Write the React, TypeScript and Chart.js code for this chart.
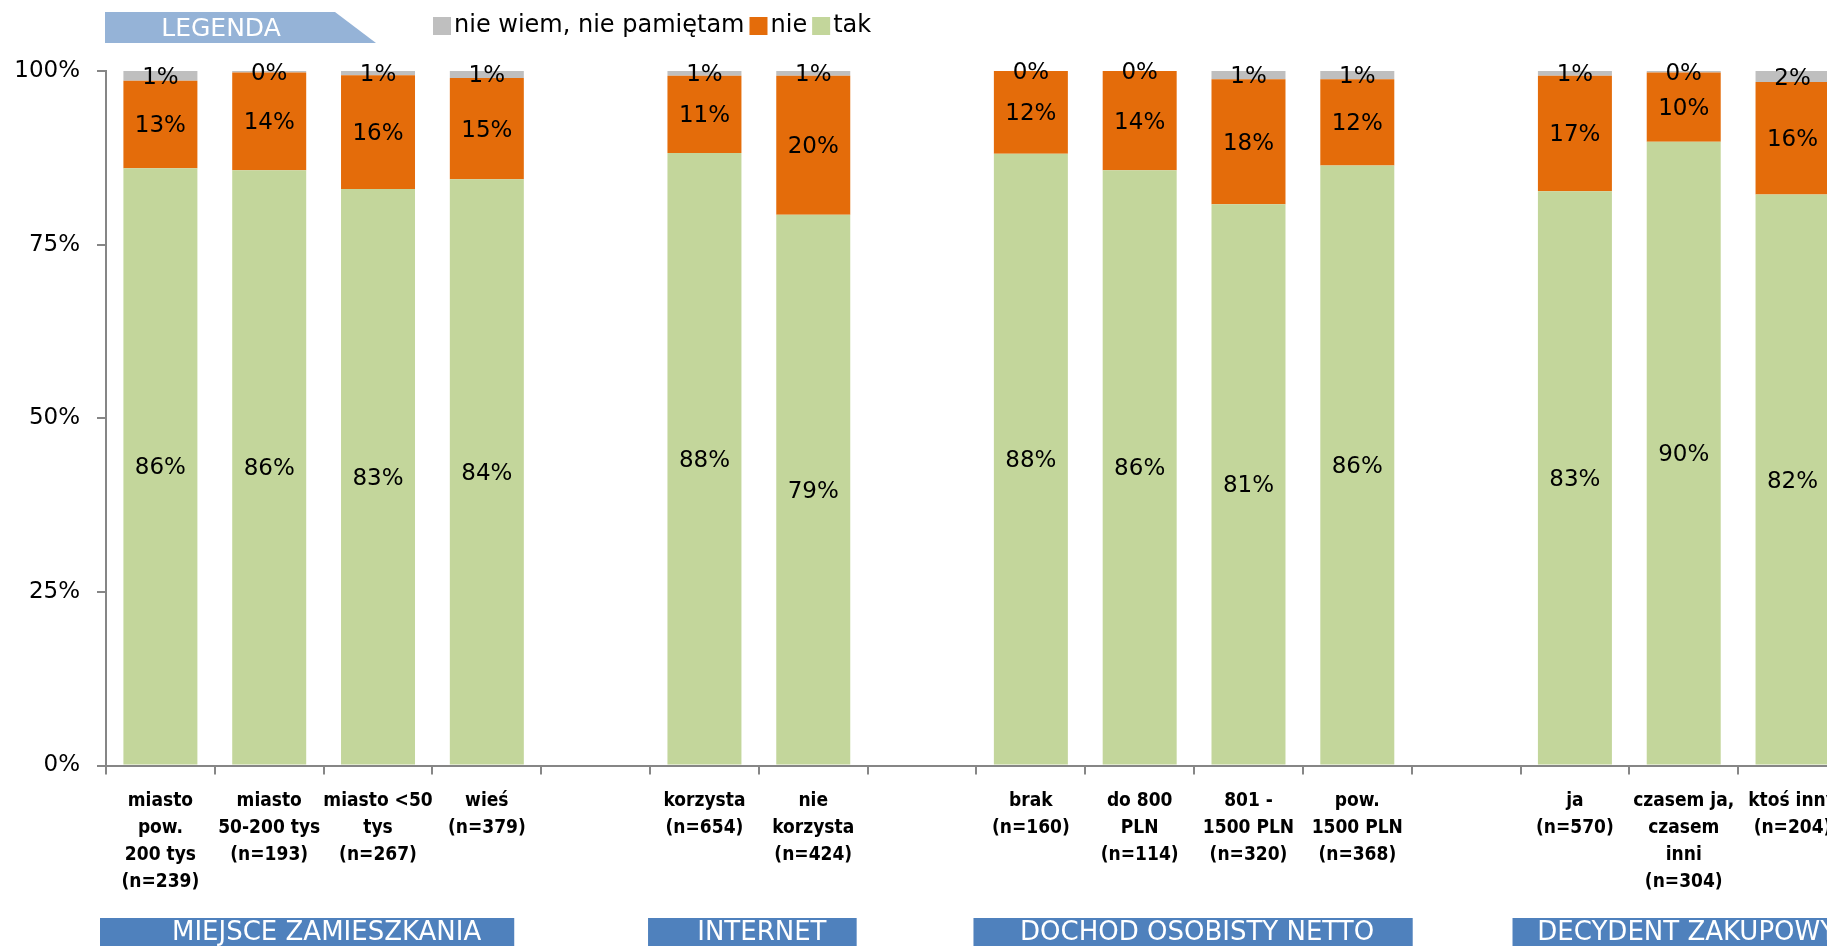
import React, { useEffect, useRef } from 'react';
import { Chart, registerables } from 'chart.js';

Chart.register(...registerables);

// ---------- data ----------
const categories: (string | string[])[] = [
  ['miasto', 'pow.', '200 tys', '(n=239)'],
  ['miasto', '50-200 tys', '(n=193)'],
  ['miasto <50', 'tys', '(n=267)'],
  ['wieś', '(n=379)'],
  '',
  ['korzysta', '(n=654)'],
  ['nie', 'korzysta', '(n=424)'],
  '',
  ['brak', '(n=160)'],
  ['do 800', 'PLN', '(n=114)'],
  ['801 -', '1500 PLN', '(n=320)'],
  ['pow.', '1500 PLN', '(n=368)'],
  '',
  ['ja', '(n=570)'],
  ['czasem ja,', 'czasem', 'inni', '(n=304)'],
  ['ktoś inny', '(n=204)'],
];

const takValues = [86.0, 85.7, 83.0, 84.4, null, 88.2, 79.3, null, 88.1, 85.7, 80.8, 86.4, null, 82.7, 89.8, 82.2];
const nieValues = [12.6, 14.1, 16.4, 14.6, null, 11.1, 20.0, null, 11.9, 14.3, 18.0, 12.4, null, 16.6, 10.0, 16.2];
const nieWiemValues = [1.4, 0.2, 0.6, 1.0, null, 0.7, 0.7, null, 0.0, 0.0, 1.2, 1.2, null, 0.7, 0.2, 1.6];

const seriesNames = ['tak', 'nie', 'nie wiem, nie pamiętam'];
const seriesColors = ['#C3D69B', '#E46C0A', '#BFBFBF'];

const yTicks = [0, 25, 50, 75, 100];

const groups = [
  { name: 'MIEJSCE ZAMIESZKANIA', from: 0, to: 3 },
  { name: 'INTERNET', from: 5, to: 6 },
  { name: 'DOCHÓD OSOBISTY NETTO', from: 8, to: 11 },
  { name: 'DECYDENT ZAKUPOWY', from: 13, to: 15 },
];

const legendTitle = 'LEGENDA';

// ---------- styles ----------
const FONT = "'DejaVu Sans', sans-serif";
const FONT_COND = "'DejaVu Sans Condensed', 'DejaVu Sans', sans-serif";
const AXIS_COLOR = '#868686';
// per-banner horizontal trims (px) [left, right]
const bannerTrims = [
  [-6, -27],
  [-2, -11],
  [-3, 1],
  [-8, 0],
];

const labelsPlugin = {
  id: 'segLabels',
  afterDatasetsDraw(chart: any) {
    const ctx = chart.ctx;
    ctx.save();
    ctx.font = `23px ${FONT}`;
    ctx.fillStyle = '#000000';
    ctx.textAlign = 'center';
    ctx.textBaseline = 'middle';
    chart.data.datasets.forEach((ds: any, di: number) => {
      const meta = chart.getDatasetMeta(di);
      meta.data.forEach((el: any, i: number) => {
        const v = ds.data[i];
        if (v === null || v === undefined) return;
        const y = (el.y + el.base) / 2;
        ctx.fillText(`${Math.round(v)}%`, el.x, y + 2);
      });
    });
    ctx.restore();
  },
};

const decorPlugin = {
  id: 'decor',
  afterDraw(chart: any) {
    const ctx = chart.ctx;
    const x = chart.scales.x;
    ctx.save();

    // LEGENDA banner
    ctx.fillStyle = '#95B3D7';
    ctx.beginPath();
    ctx.moveTo(105, 12);
    ctx.lineTo(335, 12);
    ctx.lineTo(376, 43);
    ctx.lineTo(105, 43);
    ctx.closePath();
    ctx.fill();
    ctx.fillStyle = '#FFFFFF';
    ctx.font = `25px ${FONT}`;
    ctx.textAlign = 'center';
    ctx.textBaseline = 'middle';
    ctx.fillText(legendTitle, 221, 29);

    // legend items (reverse order: nie wiem, nie, tak)
    let lx = 433;
    ctx.font = `24px ${FONT}`;
    ctx.textAlign = 'left';
    const ds = chart.data.datasets;
    for (let i = ds.length - 1; i >= 0; i--) {
      ctx.fillStyle = ds[i].backgroundColor;
      ctx.fillRect(lx, 17, 18, 18);
      lx += 21;
      ctx.fillStyle = '#000000';
      ctx.fillText(ds[i].label, lx, 26);
      lx += ctx.measureText(ds[i].label).width + 5;
    }

    // group banners
    const slot = x.getPixelForValue(1) - x.getPixelForValue(0);
    groups.forEach((g, gi) => {
      const s = x.getPixelForValue(g.from) - slot / 2;
      const e = x.getPixelForValue(g.to) + slot / 2;
      const left = s + bannerTrims[gi][0];
      const right = e + bannerTrims[gi][1];
      ctx.fillStyle = '#4F81BD';
      ctx.fillRect(left, 918, right - left, 35);
      ctx.fillStyle = '#FFFFFF';
      ctx.font = `26px ${FONT}`;
      ctx.textAlign = 'center';
      ctx.textBaseline = 'middle';
      ctx.fillText(g.name, (s + e) / 2 + 3, 933);
    });
    ctx.restore();
  },
};

export default function App() {
  const ref = useRef<HTMLCanvasElement | null>(null);

  useEffect(() => {
    if (!ref.current) return;
    const chart = new Chart(ref.current, {
      type: 'bar',
      data: {
        labels: categories as any,
        datasets: [
          { label: seriesNames[0], data: takValues as any, backgroundColor: seriesColors[0] },
          { label: seriesNames[1], data: nieValues as any, backgroundColor: seriesColors[1] },
          { label: seriesNames[2], data: nieWiemValues as any, backgroundColor: seriesColors[2] },
        ],
      },
      options: {
        responsive: false,
        animation: false,
        devicePixelRatio: 1,
        datasets: { bar: { barPercentage: 0.68, categoryPercentage: 1 } },
        layout: { padding: { top: 71, right: 3, left: 0, bottom: 0 } },
        plugins: {
          legend: { display: false },
          tooltip: { enabled: false },
          title: { display: false },
        },
        scales: {
          x: {
            stacked: true,
            offset: true,
            grid: {
              display: true,
              offset: true,
              drawOnChartArea: false,
              drawTicks: true,
              tickLength: 9,
              color: AXIS_COLOR,
              lineWidth: 2,
            },
            border: { display: true, color: AXIS_COLOR, width: 2 },
            ticks: {
              autoSkip: false,
              maxRotation: 0,
              minRotation: 0,
              padding: 13,
              color: '#000000',
              font: { family: FONT_COND, size: 19, weight: 'bold', lineHeight: 1.42 },
            },
            afterFit(scale: any) {
              scale.height = 180.5;
            },
          },
          y: {
            stacked: true,
            min: 0,
            max: 100,
            afterBuildTicks(scale: any) {
              scale.ticks = yTicks.map((v) => ({ value: v }));
            },
            grid: {
              display: true,
              drawOnChartArea: false,
              drawTicks: true,
              tickLength: 9,
              color: AXIS_COLOR,
              lineWidth: 2,
            },
            border: { display: true, color: AXIS_COLOR, width: 2 },
            ticks: {
              padding: 17,
              color: '#000000',
              font: { family: FONT, size: 23 },
              callback: (v: any) => `${v}%`,
            },
            afterFit(scale: any) {
              scale.width = 106;
            },
          },
        },
      },
      plugins: [labelsPlugin, decorPlugin],
    } as any);
    return () => chart.destroy();
  }, []);

  return (
    <div
      style={{
        position: 'absolute',
        left: 0,
        top: 0,
        width: 1827,
        height: 946,
        overflow: 'hidden',
        background: '#FFFFFF',
      }}
    >
      <canvas ref={ref} width={1850} height={946} style={{ display: 'block' }} />
    </div>
  );
}
